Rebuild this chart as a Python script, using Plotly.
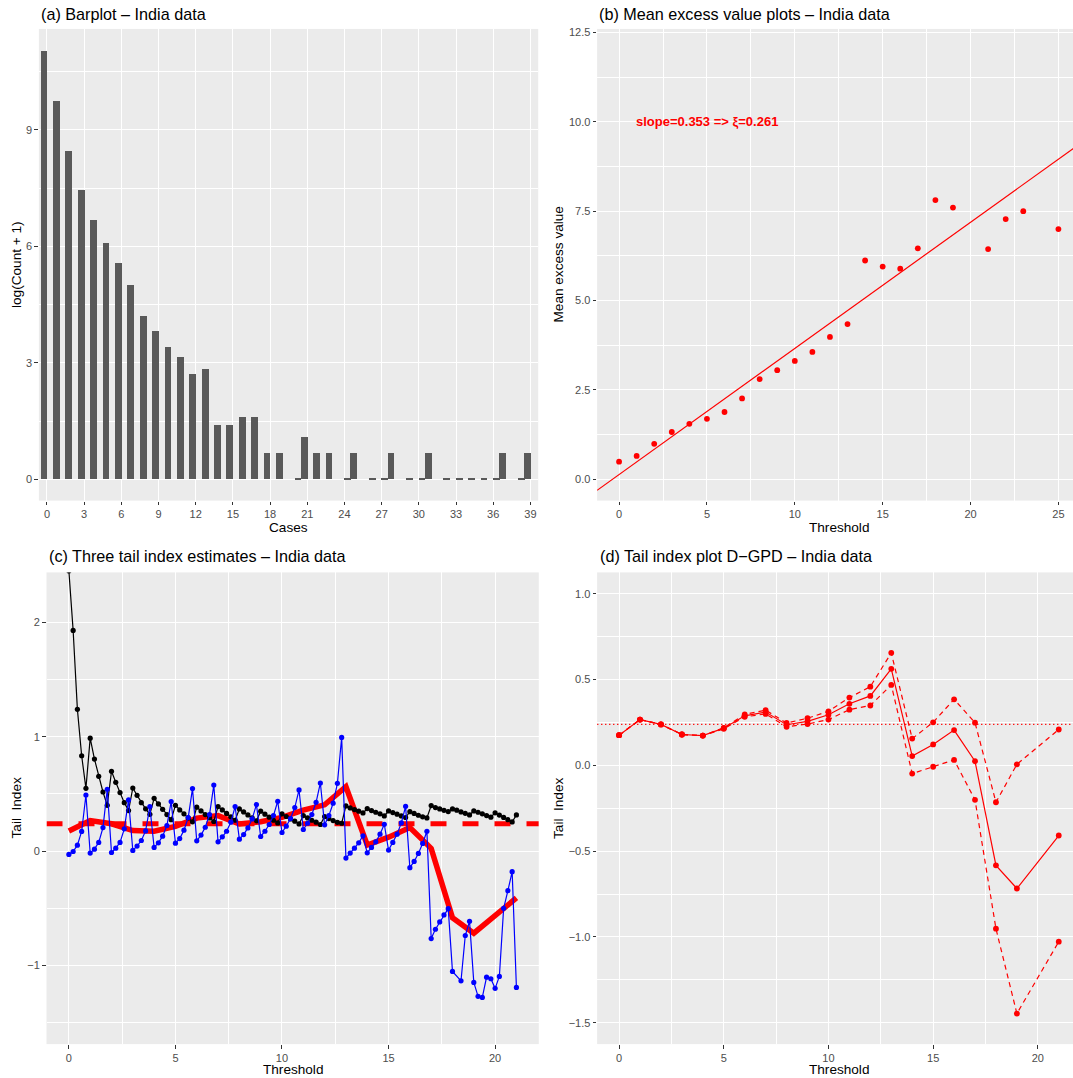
import numpy as np
import plotly.graph_objects as go

W, H = 1073, 1078

# ---------------- (a) Barplot data ----------------
cases = list(range(40))
log_count = [11.03, 9.75, 8.47, 7.45, 6.68, 6.09, 5.58, 5.01, 4.22, 3.81,
             3.40, 3.14, 2.71, 2.83, 1.39, 1.39, 1.61, 1.61, 0.69, 0.69,
             0.0, 1.10, 0.69, 0.69, 0.0, 0.69, 0.0, 0.0, 0.69, 0.0,
             0.0, 0.69, 0.0, 0.0, 0.0, 0.0, 0.0, 0.69, 0.0, 0.69]
cases_ticks = list(range(0, 40, 3))

# ---------------- (b) Mean excess data ----------------
me_threshold = list(range(0, 20)) + [21, 22, 23, 25]
me_value = [0.49, 0.65, 0.99, 1.32, 1.55, 1.69, 1.88, 2.26, 2.80, 3.05,
            3.31, 3.56, 3.98, 4.34, 6.12, 5.95, 5.89, 6.46, 7.81, 7.60,
            6.44, 7.28, 7.50, 7.00]
fit_intercept = 0.13
fit_slope = 0.353
me_label = "slope=0.353 =&gt; ξ=0.261"

# ---------------- (c) three tail index estimates ----------------
thr_fine = np.round(np.arange(0, 21.0001, 0.2), 1)
est_black = [2.45, 1.93, 1.24, 0.834, 0.549,
             0.988, 0.805, 0.654, 0.517, 0.401,
             0.698, 0.602, 0.512, 0.424, 0.355,
             0.552, 0.488, 0.424, 0.370, 0.322,
             0.462, 0.413, 0.366, 0.320, 0.275,
             0.401, 0.360, 0.326, 0.290, 0.256,
             0.384, 0.352, 0.320, 0.290, 0.259,
             0.390, 0.360, 0.330, 0.300, 0.270,
             0.369, 0.343, 0.317, 0.290, 0.265,
             0.349, 0.323, 0.297, 0.270, 0.247,
             0.326, 0.303, 0.282, 0.262, 0.238,
             0.311, 0.290, 0.270, 0.253, 0.233,
             0.302, 0.285, 0.267, 0.252, 0.244,
             0.395, 0.378, 0.363, 0.349, 0.334,
             0.372, 0.355, 0.340, 0.326, 0.308,
             0.352, 0.337, 0.323, 0.308, 0.294,
             0.345, 0.330, 0.314, 0.300, 0.290,
             0.398, 0.381, 0.369, 0.357, 0.346,
             0.369, 0.358, 0.343, 0.331, 0.317,
             0.352, 0.340, 0.326, 0.311, 0.297,
             0.335, 0.315, 0.295, 0.275, 0.255,
             0.317]
est_blue = [-0.029, -0.003, 0.052, 0.172, 0.491,
            -0.017, 0.017, 0.076, 0.206, 0.541,
            -0.012, 0.026, 0.076, 0.195, 0.448,
            0.006, 0.044, 0.093, 0.177, 0.390,
            0.032, 0.073, 0.131, 0.224, 0.433,
            0.070, 0.110, 0.183, 0.294, 0.547,
            0.090, 0.140, 0.209, 0.320, 0.578,
            0.081, 0.125, 0.174, 0.253, 0.390,
            0.105, 0.145, 0.203, 0.282, 0.407,
            0.128, 0.174, 0.233, 0.311, 0.436,
            0.163, 0.218, 0.285, 0.381, 0.535,
            0.189, 0.244, 0.320, 0.427, 0.596,
            0.230, 0.311, 0.419, 0.593, 0.994,
            -0.061, -0.017, 0.026, 0.073, 0.134,
            -0.015, 0.032, 0.081, 0.148, 0.235,
            0.009, 0.076, 0.148, 0.247, 0.392,
            -0.145, -0.090, -0.020, 0.067, 0.174,
            -0.765, -0.683, -0.619, -0.558, -0.503,
            -1.052, None, -1.134, -0.738, -0.613,
            -1.148, -1.270, -1.279, -1.102, -1.116,
            -1.200, -1.096, -0.500, -0.346, -0.180,
            -1.192]
ref_xi = 0.239

# ---------------- (d) D-GPD tail index ----------------
gpd_threshold = list(range(0, 20)) + [21]
gpd_xi = [0.176, 0.267, 0.239, 0.180, 0.174, 0.217, 0.289, 0.311, 0.237, 0.257,
          0.295, 0.359, 0.405, 0.563, 0.054, 0.122, 0.206, 0.024, -0.583, -0.718,
          -0.409]
gpd_upper = [0.176, 0.267, 0.239, 0.180, 0.174, 0.219, 0.297, 0.322, 0.247, 0.275,
             0.315, 0.395, 0.459, 0.656, 0.156, 0.251, 0.385, 0.249, -0.215, 0.006,
             0.209]
gpd_lower = [0.176, 0.267, 0.239, 0.180, 0.174, 0.213, 0.283, 0.300, 0.225, 0.241,
             0.267, 0.325, 0.349, 0.469, -0.048, -0.008, 0.032, -0.201, -0.952, -1.447,
             -1.028]

# ---------------- styling ----------------
FONT = "Liberation Sans, Arial, Helvetica, sans-serif"
BG = "#EBEBEB"
BAR = "#595959"
TICKC = "#4D4D4D"

RANGE_A_X = [-0.65, 39.63]
RANGE_A_Y = [-0.55, 11.6]
RANGE_B_X = [-1.25, 25.83]
RANGE_B_Y = [-0.6, 12.6]
RANGE_C_X = [-1.05, 22.05]
RANGE_C_Y = [-1.6875, 2.4375]
RANGE_D_X = [-1.05, 21.68]
RANGE_D_Y = [-1.625, 1.125]


def px_x(p):
    return p / W


def px_y(p):
    return 1 - p / H


def axis(domain, rng, tickvals, minor_vals, anchor, fmt=None):
    d = dict(domain=domain, range=rng, tickmode="array", tickvals=tickvals,
             showgrid=True, gridcolor="white", gridwidth=1.3,
             zeroline=False, showline=False, ticks="outside", ticklen=3.5,
             tickwidth=1, tickcolor="#333333",
             tickfont=dict(family=FONT, size=11, color=TICKC),
             anchor=anchor, fixedrange=True)
    if minor_vals:
        d["minor"] = dict(tickmode="array", tickvals=minor_vals, showgrid=True,
                          gridcolor="white", gridwidth=0.65)
    if fmt:
        d["tickformat"] = fmt
    return d


fig = go.Figure()

# (a) bars
fig.add_trace(go.Bar(x=cases, y=log_count, width=0.55, marker=dict(color=BAR, line=dict(width=0)),
                     xaxis="x", yaxis="y", showlegend=False))
zero_cases = [c for c, v in zip(cases, log_count) if v == 0]
fig.add_trace(go.Bar(x=zero_cases, y=[0.03] * len(zero_cases), base=[-0.015] * len(zero_cases),
                     width=0.55, marker=dict(color=BAR, line=dict(width=0)),
                     xaxis="x", yaxis="y", showlegend=False))

# (b) mean excess
xr_b = [-1.25, 26.25]
fig.add_trace(go.Scatter(x=xr_b, y=[fit_intercept + fit_slope * v for v in xr_b], mode="lines",
                         line=dict(color="red", width=1.2), xaxis="x2", yaxis="y2", showlegend=False))
fig.add_trace(go.Scatter(x=me_threshold, y=me_value, mode="markers",
                         marker=dict(color="red", size=5.8), xaxis="x2", yaxis="y2", showlegend=False))

# (c) three estimates
fig.add_trace(go.Scatter(x=RANGE_C_X, y=[ref_xi, ref_xi], mode="lines",
                         line=dict(color="red", width=5, dash="16px,16px"),
                         xaxis="x3", yaxis="y3", showlegend=False))
fig.add_trace(go.Scatter(x=gpd_threshold, y=gpd_xi, mode="lines",
                         line=dict(color="red", width=5.5), xaxis="x3", yaxis="y3", showlegend=False))
fig.add_trace(go.Scatter(x=thr_fine, y=est_black, mode="lines+markers",
                         line=dict(color="black", width=1.2), marker=dict(color="black", size=5.2),
                         xaxis="x3", yaxis="y3", showlegend=False))
fig.add_trace(go.Scatter(x=thr_fine, y=est_blue, mode="lines+markers", connectgaps=True,
                         line=dict(color="blue", width=1.2), marker=dict(color="blue", size=5.2),
                         xaxis="x3", yaxis="y3", showlegend=False))

# (d) D-GPD
fig.add_trace(go.Scatter(x=[RANGE_D_X[0], RANGE_D_X[1] + 1], y=[ref_xi, ref_xi], mode="lines",
                         line=dict(color="red", width=1.2, dash="1.3px,2.7px"),
                         xaxis="x4", yaxis="y4", showlegend=False))
for ys, dash in [(gpd_upper, "5px,4px"), (gpd_lower, "5px,4px"), (gpd_xi, "solid")]:
    fig.add_trace(go.Scatter(x=gpd_threshold, y=ys, mode="lines+markers",
                             line=dict(color="red", width=1.2, dash=dash),
                             marker=dict(color="red", size=5.8),
                             xaxis="x4", yaxis="y4", showlegend=False))

# domains
dom_ax = [px_x(38.9), px_x(538.2)]
dom_bx = [px_x(597.1), 1.0]
dom_cx = [px_x(46.5), px_x(538.8)]
dom_dx = [px_x(597.1), 1.0]
dom_top = [px_y(499), px_y(26)]
dom_bot = [px_y(1044), px_y(571)]

layout = dict(
    width=W, height=H, margin=dict(l=0, r=0, t=0, b=0, pad=0),
    paper_bgcolor="white", plot_bgcolor=BG, showlegend=False, bargap=0,
    font=dict(family=FONT, color="black"),
    xaxis=axis(dom_ax, RANGE_A_X, cases_ticks, None, "y"),
    yaxis=axis(dom_top, RANGE_A_Y, [0, 3, 6, 9], [1.5, 4.5, 7.5, 10.5], "x"),
    xaxis2=axis(dom_bx, RANGE_B_X, [0, 5, 10, 15, 20, 25], [2.5, 7.5, 12.5, 17.5, 22.5], "y2"),
    yaxis2=axis(dom_top, RANGE_B_Y, [0, 2.5, 5, 7.5, 10, 12.5],
                [1.25, 3.75, 6.25, 8.75, 11.25], "x2", fmt=".1f"),
    xaxis3=axis(dom_cx, RANGE_C_X, [0, 5, 10, 15, 20], [2.5, 7.5, 12.5, 17.5], "y3"),
    yaxis3=axis(dom_bot, RANGE_C_Y, [-1, 0, 1, 2], [-1.5, -0.5, 0.5, 1.5], "x3"),
    xaxis4=axis(dom_dx, RANGE_D_X, [0, 5, 10, 15, 20], [2.5, 7.5, 12.5, 17.5], "y4"),
    yaxis4=axis(dom_bot, RANGE_D_Y, [-1.5, -1.0, -0.5, 0, 0.5, 1.0],
                [-1.25, -0.75, -0.25, 0.25, 0.75], "x4", fmt=".1f"),
)
fig.update_layout(**layout)

TITLE = 16.2
AXT = 13.6
ann = []


def add_text(text, x, y, size, angle=0, xanchor="center"):
    ann.append(dict(text=text, x=x, y=y, xref="paper", yref="paper", showarrow=False,
                    xanchor=xanchor, yanchor="middle", textangle=angle,
                    font=dict(family=FONT, size=size, color="black")))


add_text("(a) Barplot – India data", px_x(39), px_y(11.5), TITLE, xanchor="left")
add_text("(b) Mean excess value plots – India data", px_x(597.1), px_y(11.5), TITLE, xanchor="left")
add_text("(c) Three tail index estimates – India data", px_x(46.5), px_y(555), TITLE, xanchor="left")
add_text("(d) Tail index plot D−GPD – India data", px_x(597.5), px_y(555), TITLE, xanchor="left")

add_text("Cases", px_x(288.6), px_y(525.5), AXT)
add_text("Threshold", px_x(838.8), px_y(525.5), AXT)
add_text("Threshold", px_x(292.6), px_y(1069.3), AXT)
add_text("Threshold", px_x(838.8), px_y(1069.3), AXT)
add_text("log(Count + 1)", px_x(17.2), px_y(262.5), AXT, angle=-90)
add_text("Mean excess value", px_x(558.7), px_y(262.5), AXT, angle=-90)
add_text("Tail\u00a0\u00a0Index", px_x(16.2), px_y(807.5), AXT, angle=-90)
add_text("Tail\u00a0\u00a0Index", px_x(558.7), px_y(807.5), AXT, angle=-90)

ann.append(dict(text="<b>" + me_label + "</b>", x=5, y=10, xref="x2", yref="y2", showarrow=False,
                xanchor="center", yanchor="middle",
                font=dict(family=FONT, size=13, color="red")))

fig.update_layout(annotations=ann)

fig.write_html("out.html", config={"displayModeBar": False},
               post_script="document.body.style.margin='0px';document.body.style.overflow='hidden';")
